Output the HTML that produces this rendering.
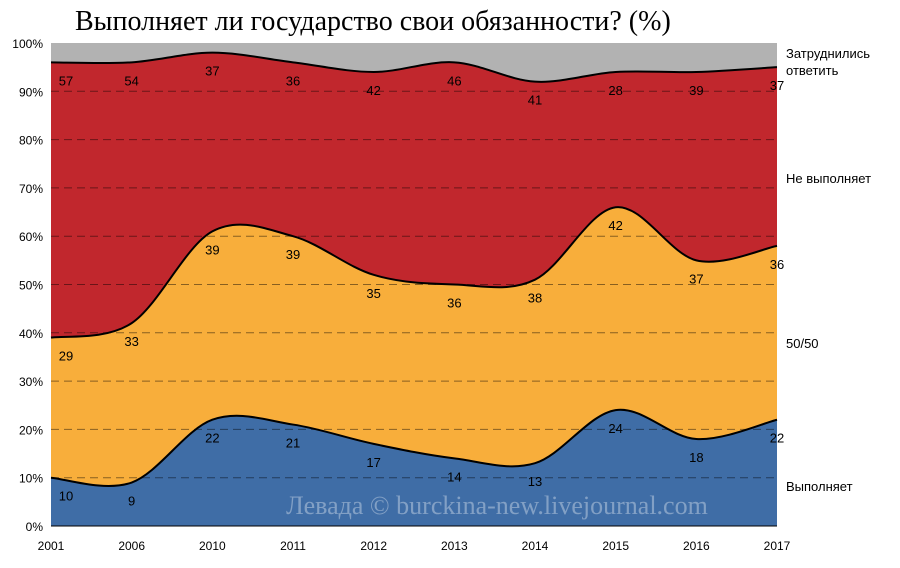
<!DOCTYPE html>
<html><head><meta charset="utf-8"><style>
body{margin:0;background:#fff;width:900px;height:563px;overflow:hidden;font-family:"Liberation Sans",sans-serif}
</style></head><body>
<svg id="c" width="900" height="563" xmlns="http://www.w3.org/2000/svg"></svg>
<script>
const years=["2001","2006","2010","2011","2012","2013","2014","2015","2016","2017"];
const yes=[10,9,22,21,17,14,13,24,18,22];
const half=[29,33,39,39,35,36,38,42,37,36];
const no=[57,54,37,36,42,46,41,28,39,37];
const yTicks=[0,10,20,30,40,50,60,70,80,90,100];
const svg=document.getElementById('c');
const NS='http://www.w3.org/2000/svg';
const X0=51,X1=777,Y0=526,Y1=43;
const x=i=>X0+(X1-X0)*i/(years.length-1);
const y=v=>Y0-(Y0-Y1)*v/100;
function el(t,a,txt){const e=document.createElementNS(NS,t);for(const k in a)e.setAttribute(k,a[k]);if(txt!=null)e.textContent=txt;svg.appendChild(e);return e;}
function curve(vals){const p=vals.map((v,i)=>[x(i),y(v)]);let d='M'+p[0][0]+','+p[0][1];
for(let i=0;i<p.length-1;i++){const a=p[i-1]||p[i],b=p[i],c=p[i+1],e=p[i+2]||c;const t=6;
d+=` C${b[0]+(c[0]-a[0])/t},${b[1]+(c[1]-a[1])/t} ${c[0]-(e[0]-b[0])/t},${c[1]-(e[1]-b[1])/t} ${c[0]},${c[1]}`;}return d;}
const c1=yes,c2=yes.map((v,i)=>v+half[i]),c3=c2.map((v,i)=>v+no[i]);
let e=el('text',{x:75,y:30,'font-family':'Liberation Serif,serif','font-size':28,fill:'#000'},'Выполняет ли государство свои обязанности? (%)');

e=el('rect',{x:X0,y:Y1,width:X1-X0,height:Y0-Y1,fill:'#b2b2b2'});
const fills=[[c3,'#c1272d','area-no'],[c2,'#f8ae3b','area-half'],[c1,'#3f6da6','area-yes']];
fills.forEach(([c,f,n])=>{const p=el('path',{d:curve(c)+` L${X1},${Y0} L${X0},${Y0} Z`,fill:f});});
yTicks.forEach(t=>{if(t>0&&t<100){const g=el('line',{x1:X0,x2:X1,y1:y(t),y2:y(t),stroke:'#000','stroke-opacity':0.45,'stroke-dasharray':'8,5'});}
const l=el('text',{x:43,y:y(t)+5,'text-anchor':'end','font-size':12,fill:'#000'},t+'%');});
[c1,c2,c3].forEach(c=>{const p=el('path',{d:curve(c),fill:'none',stroke:'#000','stroke-width':2});});
years.forEach((yr,i)=>{const t=el('text',{x:x(i),y:550,'text-anchor':'middle','font-size':12,fill:'#000'},yr);
[[yes,c1],[half,c2],[no,c3]].forEach(([s,c])=>{const v=el('text',{x:x(i)+(i==0?15:0),y:y(c[i])+23,'text-anchor':'middle','font-size':13,fill:'#000'},s[i]);});});
e=el('line',{x1:X0,x2:X1,y1:Y0,y2:Y0,stroke:'#000'});
e=el('text',{x:497,y:514,'text-anchor':'middle','font-family':'Liberation Serif,serif','font-size':26,fill:'#ffffff','fill-opacity':0.35},'Левада © burckina-new.livejournal.com');
[['Затруднились',58],['ответить',75],['Не выполняет',183],['50/50',348],['Выполняет',491]].forEach(([t,yy])=>{const l=el('text',{x:786,y:yy,'font-size':13,fill:'#000'},t);});
</script>
</body></html>
